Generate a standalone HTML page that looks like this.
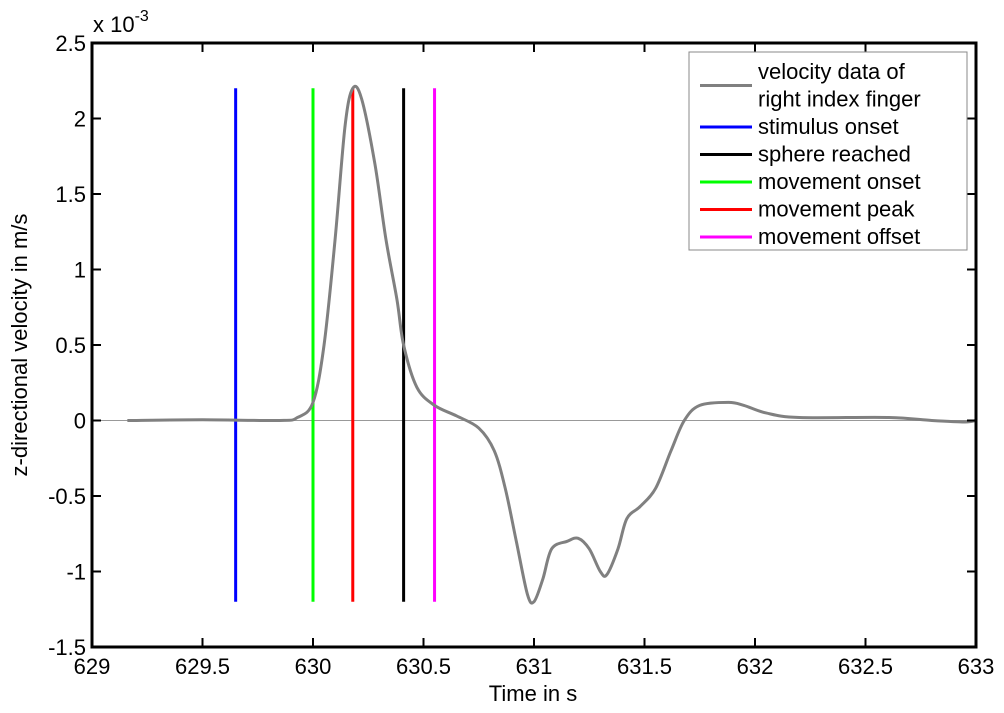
<!DOCTYPE html>
<html><head><meta charset="utf-8"><style>
html,body{margin:0;padding:0;background:#fff;}
svg{display:block;font-family:"Liberation Sans",Arial,sans-serif;}
</style></head><body>
<svg id="chart" width="1004" height="713" viewBox="0 0 1004 713">
<g id="plot"></g>
<text x="93" y="32" font-size="22">x 10<tspan dy="-11" font-size="16">-3</tspan></text>
<text x="533" y="701" font-size="22" text-anchor="middle">Time in s</text>
<text transform="translate(27,345) rotate(-90)" font-size="22" text-anchor="middle">z-directional velocity in m/s</text>
</svg>
<script>
const times=[629.16,629.5,629.85,629.93,630.0,630.05,630.1,630.145,630.18,630.22,630.28,630.33,630.38,630.41,630.47,630.55,630.65,630.75,630.82,630.87,630.92,630.97,631.0,631.04,631.08,631.15,631.2,631.25,631.3,631.33,631.38,631.42,631.48,631.55,631.62,631.68,631.75,631.88,631.95,632.05,632.2,632.6,632.8,632.95,633.0];
const velocity=[0,0.005,0,0.02,0.12,0.5,1.2,1.95,2.2,2.13,1.7,1.2,0.8,0.5,0.22,0.1,0.03,-0.05,-0.2,-0.45,-0.8,-1.15,-1.2,-1.05,-0.85,-0.8,-0.78,-0.85,-1.0,-1.02,-0.85,-0.65,-0.57,-0.45,-0.2,0.0,0.1,0.12,0.1,0.05,0.02,0.02,0.0,-0.01,0];
const eventNames=["stimulus onset","movement onset","movement peak","sphere reached","movement offset"];
const eventTimes=[629.65,630.0,630.18,630.41,630.55];
const eventColors=["#0000ff","#00ff00","#ff0000","#000000","#ff00ff"];
const eventTop=2.2, eventBottom=-1.2;
const xTicks=[629,629.5,630,630.5,631,631.5,632,632.5,633];
const xTickLabels=["629","629.5","630","630.5","631","631.5","632","632.5","633"];
const yTicks=[-1.5,-1,-0.5,0,0.5,1,1.5,2,2.5];
const yTickLabels=["-1.5","-1","-0.5","0","0.5","1","1.5","2","2.5"];
const legendLabels=[["velocity data of","right index finger"],["stimulus onset"],["sphere reached"],["movement onset"],["movement peak"],["movement offset"]];
const legendColors=["#808080","#0000ff","#000000","#00ff00","#ff0000","#ff00ff"];

const L=92,R=976,T=43,B=647;
const xS=v=>L+(v-629)/(633-629)*(R-L);
const yS=v=>T+(2.5-v)/4*(B-T);
const NS="http://www.w3.org/2000/svg";
const g=document.getElementById('plot');
function mk(tag,attrs,parent){const e=document.createElementNS(NS,tag);for(const k in attrs)e.setAttribute(k,attrs[k]);(parent||g).appendChild(e);return e;}

let z=mk('line',{x1:L,x2:R,y1:yS(0),y2:yS(0),stroke:'#999','stroke-width':1});



eventTimes.forEach((t,i)=>{
 const l=mk('line',{x1:xS(t),x2:xS(t),y1:yS(eventTop),y2:yS(eventBottom),stroke:eventColors[i],'stroke-width':3});
 
 
});

const pts=times.map((t,i)=>[xS(t),yS(velocity[i])]);
let d='M'+pts[0][0]+','+pts[0][1];
for(let i=0;i<pts.length-1;i++){
 const p0=pts[Math.max(0,i-1)],p1=pts[i],p2=pts[i+1],p3=pts[Math.min(pts.length-1,i+2)];
 const c1=[p1[0]+(p2[0]-p0[0])/6,p1[1]+(p2[1]-p0[1])/6];
 const c2=[p2[0]-(p3[0]-p1[0])/6,p2[1]-(p3[1]-p1[1])/6];
 d+=` C${c1[0]},${c1[1]} ${c2[0]},${c2[1]} ${p2[0]},${p2[1]}`;
}
const c=mk('path',{d:d,fill:'none',stroke:'#808080','stroke-width':3});



const box=mk('rect',{x:L,y:T,width:R-L,height:B-T,fill:'none',stroke:'#000','stroke-width':3});



xTicks.forEach((v,i)=>{
 mk('line',{x1:xS(v),x2:xS(v),y1:B,y2:B-9,stroke:'#000','stroke-width':2});
 mk('line',{x1:xS(v),x2:xS(v),y1:T,y2:T+9,stroke:'#000','stroke-width':2});
 const t=mk('text',{x:xS(v),y:B+27,'text-anchor':'middle','font-size':22});
 t.textContent=xTickLabels[i];
 
 
});
yTicks.forEach((v,i)=>{
 mk('line',{x1:L,x2:L+9,y1:yS(v),y2:yS(v),stroke:'#000','stroke-width':2});
 mk('line',{x1:R,x2:R-9,y1:yS(v),y2:yS(v),stroke:'#000','stroke-width':2});
 const t=mk('text',{x:L-6,y:yS(v)+8,'text-anchor':'end','font-size':22});
 t.textContent=yTickLabels[i];
 
 
});

const lb=mk('rect',{x:689,y:52,width:278,height:198,fill:'#fff',stroke:'#888','stroke-width':1});


let yy=79;
legendLabels.forEach((lines,i)=>{
 const ly=yy+(lines.length-1)*13.5-7;
 const ll=mk('line',{x1:700,x2:752,y1:ly,y2:ly,stroke:legendColors[i],'stroke-width':3});
 
 
 lines.forEach(s=>{
  const t=mk('text',{x:758,y:yy,'font-size':22});
  t.textContent=s;
  
  
  yy+=27.5;
 });
});
</script>
</body></html>
